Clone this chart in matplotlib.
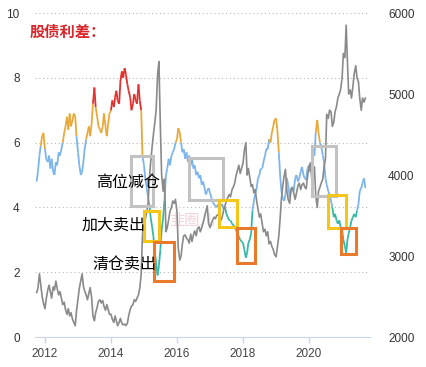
import numpy as np
import pandas as pd
import matplotlib
matplotlib.use('Agg')
import matplotlib.pyplot as plt
import matplotlib.dates as mdates
from matplotlib.collections import LineCollection
from matplotlib.patches import Rectangle

# 股债利差 (左轴, 半月频) 2011-10 ~ 2021-09
spread_2011 = [4.8, 5.1, 5.6, 5.9, 6.2, 6.3]
spread_2012 = [5.8, 5.5, 5.4, 5.6, 5.2, 5.5, 5.1, 5.0, 5.4, 5.3, 5.7, 5.6,
               5.8, 6.0, 6.3, 6.5, 6.8, 6.4, 6.9, 6.5, 6.7, 6.9, 6.8, 6.2]
spread_2013 = [5.7, 5.3, 5.0, 5.1, 5.4, 5.8, 6.1, 6.3, 6.5, 6.2, 6.6, 7.2,
               7.7, 7.1, 6.8, 6.5, 6.4, 6.3, 6.5, 6.9, 6.5, 6.2, 6.6, 6.9]
spread_2014 = [7.0, 7.3, 7.1, 7.4, 7.6, 7.3, 7.2, 7.9, 8.2, 8.0, 8.3, 8.1,
               7.8, 7.6, 7.4, 7.0, 7.2, 7.5, 7.3, 7.2, 7.8, 7.3, 7.0, 5.6]
spread_2015 = [5.3, 4.9, 4.6, 4.3, 4.1, 3.7, 3.4, 3.1, 2.6, 2.3, 1.9, 2.2,
               2.7, 3.3, 3.7, 4.2, 5.0, 5.2, 5.5, 5.3, 5.6, 5.7, 5.8, 6.0]
spread_2016 = [6.1, 6.45, 6.3, 6.0, 5.7, 5.8, 5.5, 5.7, 5.4, 5.6, 5.3, 5.5,
               5.2, 5.3, 5.0, 5.1, 4.9, 5.0, 4.7, 4.8, 4.6, 4.4, 4.5, 4.6]
spread_2017 = [4.45, 4.3, 4.15, 4.1, 4.05, 4.0, 4.1, 4.0, 4.05, 4.1, 3.95, 4.0,
               3.8, 3.7, 3.6, 3.6, 3.5, 3.45, 3.4, 3.3, 3.2, 3.1, 3.0, 2.95]
spread_2018 = [2.9, 2.7, 2.45, 2.6, 2.9, 3.0, 3.2, 3.9, 4.2, 4.4, 4.6, 4.9,
               5.0, 5.2, 5.2, 5.4, 5.6, 5.8, 5.8, 6.1, 6.0, 6.3, 6.5, 6.7]
spread_2019 = [6.75, 6.4, 5.7, 5.0, 4.5, 4.3, 4.2, 4.4, 4.9, 4.7, 4.3, 4.5,
               4.6, 4.5, 4.9, 5.0, 4.8, 4.9, 5.1, 5.25, 5.0, 4.9, 4.85, 5.2]
spread_2020 = [5.3, 5.1, 5.4, 5.7, 5.6, 6.3, 6.7, 6.3, 6.0, 5.9, 5.6, 5.4,
               4.9, 4.7, 4.5, 4.4, 4.2, 4.0, 3.7, 3.8, 3.6, 3.5, 3.6, 3.4]
spread_2021 = [3.3, 3.0, 2.8, 2.6, 3.0, 3.2, 3.4, 3.6, 3.7, 3.8, 3.7, 3.9,
               4.1, 4.5, 4.6, 4.75, 4.9, 4.6]

# 指数 (右轴)
index_2011 = [2550, 2600, 2780, 2650, 2500, 2420]
index_2012 = [2350, 2470, 2580, 2640, 2560, 2480, 2620, 2580, 2690, 2600, 2520, 2560,
              2480, 2400, 2430, 2340, 2280, 2350, 2260, 2300, 2220, 2180, 2140, 2320]
index_2013 = [2470, 2600, 2700, 2780, 2630, 2570, 2520, 2460, 2540, 2610, 2480, 2260,
              2200, 2300, 2370, 2440, 2460, 2420, 2450, 2380, 2330, 2400, 2340, 2280]
index_2014 = [2280, 2220, 2180, 2260, 2200, 2140, 2180, 2230, 2170, 2150, 2160, 2140,
              2170, 2260, 2340, 2380, 2400, 2460, 2440, 2480, 2520, 2600, 2780, 3250]
index_2015 = [3500, 3450, 3550, 3650, 3950, 4150, 4350, 4500, 4650, 4800, 5250, 5400,
              4600, 4000, 3800, 3950, 3300, 3350, 3450, 3550, 3600, 3680, 3650, 3700]
index_2016 = [3550, 3100, 2950, 3000, 3150, 3250, 3260, 3220, 3200, 3160, 3270, 3180,
              3260, 3310, 3250, 3340, 3360, 3300, 3350, 3410, 3480, 3550, 3620, 3400]
index_2017 = [3350, 3400, 3450, 3480, 3460, 3500, 3510, 3490, 3440, 3480, 3570, 3620,
              3680, 3720, 3760, 3730, 3820, 3850, 3900, 3990, 4060, 4120, 4020, 4080]
index_2018 = [4150, 4300, 4400, 4000, 4080, 3980, 3860, 3880, 3780, 3820, 3680, 3580,
              3480, 3520, 3400, 3300, 3330, 3250, 3300, 3150, 3180, 3120, 3080, 3020]
index_2019 = [2990, 3100, 3250, 3460, 3700, 3850, 3990, 4070, 3800, 3700, 3650, 3830,
              3850, 3780, 3700, 3780, 3870, 3900, 3820, 3880, 3900, 3850, 3830, 3980]
index_2020 = [4100, 4150, 3950, 4050, 4100, 3750, 3600, 3800, 3850, 3900, 3950, 4100,
              4200, 4750, 4700, 4800, 4780, 4600, 4650, 4780, 4850, 4950, 5000, 5050]
index_2021 = [5200, 5500, 5450, 5850, 5400, 5000, 5050, 4950, 5100, 5250, 5350, 5200,
              5150, 4950, 4800, 4950, 4900, 4950]

left_ticks = [0, 2, 4, 6, 8, 10]
right_ticks = [2000, 3000, 4000, 5000, 6000]

# 标注框: (起, 止, 下, 上) 左轴单位
gray_boxes = [('2014-08-10', '2015-04-08', 4.04, 5.58),
              ('2016-05-10', '2017-05-22', 4.23, 5.52),
              ('2020-02-03', '2020-10-27', 4.35, 5.90)]
yellow_boxes = [('2015-01-01', '2015-06-14', 2.96, 3.89),
                ('2017-04-09', '2017-10-27', 3.40, 4.23),
                ('2020-07-31', '2021-02-13', 3.36, 4.38)]
orange_boxes = [('2015-04-20', '2015-11-24', 1.73, 2.93),
                ('2017-10-27', '2018-05-10', 2.28, 3.36),
                ('2020-12-20', '2021-06-03', 2.56, 3.36)]


def band_color(v):
    if v >= 7:
        return '#e2302c'
    if v >= 6:
        return '#e8a93a'
    if v >= 4:
        return '#7cb5ec'
    return '#36b8a6'


def main():
    spread = np.array(spread_2011 + spread_2012 + spread_2013 + spread_2014 + spread_2015
                      + spread_2016 + spread_2017 + spread_2018 + spread_2019 + spread_2020
                      + spread_2021)
    index = np.array(index_2011 + index_2012 + index_2013 + index_2014 + index_2015
                     + index_2016 + index_2017 + index_2018 + index_2019 + index_2020
                     + index_2021)
    dates = pd.date_range('2011-10-01', periods=len(spread), freq='SMS')
    xn = mdates.date2num(dates)

    fig = plt.figure(figsize=(4.26, 3.67), dpi=100)
    ax = fig.add_axes([0.0822, 0.0817, 0.7864, 0.8828])
    ax2 = ax.twinx()

    # 股债利差: 按区间着色
    pts = np.column_stack([xn, spread])
    segs = np.stack([pts[:-1], pts[1:]], axis=1)
    cols = [band_color((a + b) / 2) for a, b in zip(spread[:-1], spread[1:])]
    ax.add_collection(LineCollection(segs, colors=cols, linewidths=1.3, zorder=3))

    ax2.plot(dates, index, color='#8a8a8a', lw=1.2, zorder=2)

    ax.set_xlim(pd.Timestamp('2011-09-13'), pd.Timestamp('2021-11-06'))
    ax.set_ylim(0, 10)
    ax2.set_ylim(2000, 6000)
    ax.set_yticks(left_ticks)
    ax2.set_yticks(right_ticks)
    ax.xaxis.set_major_locator(mdates.YearLocator(2))
    ax.xaxis.set_major_formatter(mdates.DateFormatter('%Y'))

    ax.yaxis.grid(True, linestyle=(0, (1, 2.5)), color='#b8b8b8', lw=0.8)
    for a in (ax, ax2):
        for s in a.spines.values():
            s.set_visible(False)
    ax.spines['bottom'].set_visible(True)
    ax.spines['bottom'].set_color('#ccd6eb')
    ax.tick_params(axis='x', colors='#ccd6eb', length=4, width=1, pad=4,
                   labelcolor='#444444', labelsize=8.5)
    ax.tick_params(axis='y', length=0, pad=11, labelcolor='#333333', labelsize=8.5)
    ax2.tick_params(axis='y', length=0, pad=13, labelcolor='#333333', labelsize=8.5)
    for lab in ax.get_xticklabels() + ax.get_yticklabels() + ax2.get_yticklabels():
        lab.set_family('Liberation Sans')

    for boxes, c in [(gray_boxes, '#c2c2c2'), (yellow_boxes, '#f5c518'),
                     (orange_boxes, '#e9792b')]:
        for x0, x1, y0, y1 in boxes:
            d0 = mdates.datestr2num(x0)
            d1 = mdates.datestr2num(x1)
            ax2.add_patch(Rectangle((d0, y0), d1 - d0, y1 - y0, fill=False,
                                    edgecolor=c, lw=2.2, transform=ax.transData, zorder=5))

    cjk = ['Noto Sans CJK SC', 'DejaVu Sans']
    ax2.text(mdates.datestr2num('2016-06-15'), 3.6, '韭圈儿', transform=ax.transData,
             family=cjk, fontsize=11, color='#f3d3da', ha='center', va='center', zorder=1)
    labels = [('2014-07-08', 4.78, '高位减仓'), ('2014-02-03', 3.46, '加大卖出'),
              ('2014-06-03', 2.25, '清仓卖出')]
    for d, y, s in labels:
        ax2.text(mdates.datestr2num(d), y, s, transform=ax.transData, family=cjk,
                 fontsize=11.5, color='black', ha='center', va='center', zorder=6)

    fig.text(0.07, 0.913, '股债利差：', family=cjk, fontsize=11, fontweight='bold',
             color='#d9262b', ha='left', va='center')

    fig.savefig('out.png', dpi=100)


if __name__ == '__main__':
    main()
